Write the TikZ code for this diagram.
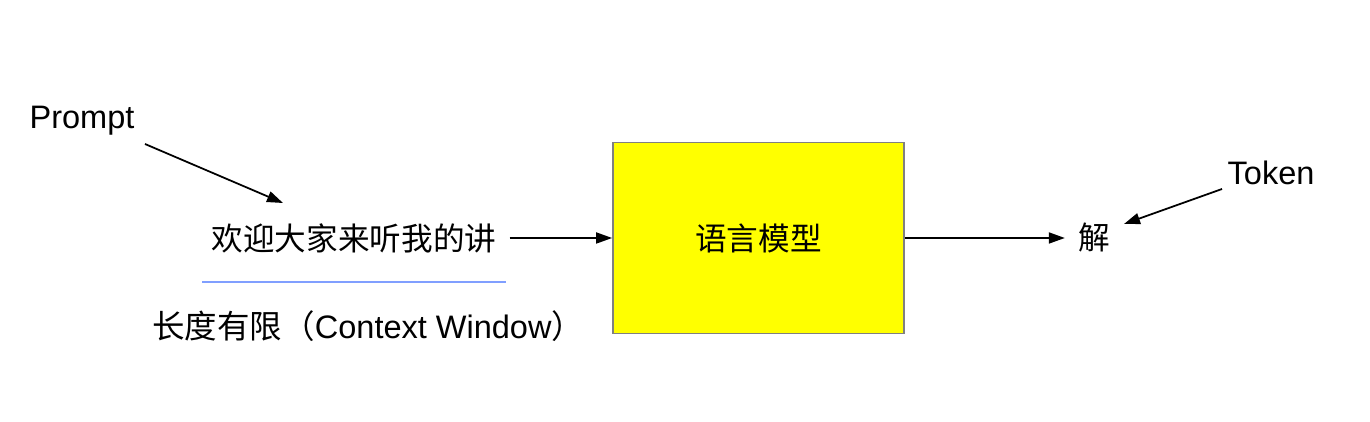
\documentclass[tikz,border=0pt]{standalone}
\usepackage{fontspec}
\usepackage{xcolor}
\usepackage{tikz}
\usetikzlibrary{arrows.meta, positioning}
\setmainfont{Liberation Sans}
\newfontfamily\cjk{Noto Sans CJK SC}
\definecolor{myyellow}{HTML}{FFFF00}
\definecolor{mygray}{HTML}{808080}
\definecolor{myblue}{HTML}{809FFF}

\begin{document}
\begin{tikzpicture}[
  model/.style={rectangle, draw=mygray, line width=1pt, fill=myyellow, minimum width=5.82cm, minimum height=3.82cm, font=\fontsize{18}{22}\selectfont\cjk},
  txt/.style={inner sep=0.26cm, font=\fontsize{18.5}{22}\selectfont},
  arr/.style={-{Triangle[length=0.32cm, width=0.22cm]}, line width=1pt},
]
\useasboundingbox (0,0) rectangle (27.4,8.44);

\node[txt] (prompt) at (1.64,6.02) {Prompt};
\node[txt, font=\fontsize{18}{22}\selectfont\cjk] (sent) at (7.08,3.68) {欢迎大家来听我的讲};
\node[model] (lm) at (15.17,3.68) {语言模型};
\node[txt, font=\fontsize{18}{22}\selectfont\cjk] (out) at (21.88,3.68) {解};
\node[txt] (token) at (25.42,4.98) {Token};
\node[txt, anchor=west, inner sep=0pt] (ctx) at (3.04,1.92) {{\cjk 长度有限（}Context Window{\cjk ）}};

% free ends of the pointer arrows
\coordinate (p0) at (2.90,5.56);
\coordinate (p1) at (5.66,4.38);
\coordinate (t0) at (24.44,4.66);
\coordinate (t1) at (22.48,3.96);
% underline of the sentence
\coordinate (u0) at (4.04,2.80);
\coordinate (u1) at (10.12,2.80);

\draw[arr] (p0) -- (p1);
\draw[arr] (sent) -- (lm);
\draw[arr] (lm) -- (out);
\draw[arr] (t0) -- (t1);
\draw[myblue, line width=0.8pt] (u0) -- (u1);
\end{tikzpicture}
\end{document}
